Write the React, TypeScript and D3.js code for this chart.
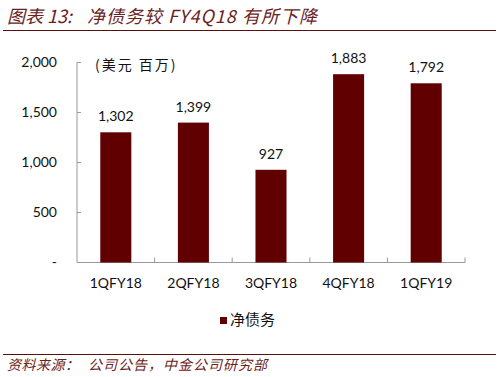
import React from "react";
import * as d3 from "d3";

const categories = ["1QFY18", "2QFY18", "3QFY18", "4QFY18", "1QFY19"];
const netDebt = [1302, 1399, 927, 1883, 1792];
const yTicks = [0, 500, 1000, 1500, 2000];
const seriesName = "净债务";
const unitLabel = "(美元 百万)";
const titleParts = ["图表 13:", "净债务较 FY4Q18 有所下降"];
const sourceParts = ["资料来源：", "公司公告，中金公司研究部"];

const W = 499;
const H = 377;
const left = 77;
const right = 465;
const top = 62.5;
const bottom = 262.5;
const barColor = "#600000";
const lineColor = "#5a0f0f";
const latin = "Lato, 'Open Sans', sans-serif";
const cjk = "'Noto Sans CJK SC', sans-serif";

export default function App() {
  const x = d3.scaleBand<string>().domain(categories).range([left, right]).paddingInner(0).paddingOuter(0);
  const y = d3.scaleLinear().domain([0, 2000]).range([bottom, top]);
  const bw = x.bandwidth() * 0.4;
  const fmt = d3.format(",");
  return (
    <svg width={W} height={H} style={{ position: "absolute", left: 0, top: 0, background: "#fff" }}>
      <text x={7} y={23} fontFamily={cjk} fontStyle="italic" fontSize={18} fill="#6a2222">
        {titleParts[0]}
      </text>
      <text x={87} y={23} fontFamily={cjk} fontStyle="italic" fontSize={18} letterSpacing={1} fill="#6a2222">
        {titleParts[1]}
      </text>
      <line x1={3} x2={496} y1={30.5} y2={30.5} stroke={lineColor} strokeWidth={1.2} />

      {/* y axis */}
      <line x1={left} x2={left} y1={top} y2={bottom} stroke="#999" strokeWidth={1} />
      {yTicks.map((t) => (
        <g key={t}>
          <line x1={left} x2={left + 4} y1={y(t)} y2={y(t)} stroke="#999" />
          <text x={57} y={y(t)} dy="0.35em" textAnchor="end" fontFamily={latin} fontSize={14} fill="#111">
            {t === 0 ? "-" : fmt(t)}
          </text>
        </g>
      ))}
      {/* x axis */}
      <line x1={left} x2={right} y1={bottom} y2={bottom} stroke="#999" strokeWidth={1} />
      {categories.map((c) => (
        <line key={"t" + c} x1={(x(c) as number) + x.bandwidth()} x2={(x(c) as number) + x.bandwidth()} y1={bottom} y2={bottom - 5} stroke="#999" />
      ))}

      {categories.map((c, i) => {
        const cx = (x(c) as number) + x.bandwidth() / 2;
        return (
          <g key={c}>
            <rect x={cx - bw / 2} y={y(netDebt[i])} width={bw} height={bottom - y(netDebt[i])} fill={barColor} />
            <text x={cx} y={y(netDebt[i]) - 11} textAnchor="middle" fontFamily={latin} fontSize={14} fill="#111">
              {fmt(netDebt[i])}
            </text>
            <text x={cx} y={288} textAnchor="middle" fontFamily={latin} fontSize={14} fill="#111">
              {c}
            </text>
          </g>
        );
      })}

      <text x={95} y={70} fontFamily={cjk} fontSize={14} letterSpacing={2} fill="#111">
        {unitLabel}
      </text>

      {/* legend */}
      <rect x={220} y={317} width={7} height={7} fill={barColor} />
      <text x={230} y={325} fontFamily={cjk} fontSize={15} fill="#111">
        {seriesName}
      </text>

      <line x1={3} x2={496} y1={354.5} y2={354.5} stroke={lineColor} strokeWidth={1.2} />
      <text x={7} y={370} fontFamily={cjk} fontStyle="italic" fontSize={14} letterSpacing={0.5} fill="#6a2222">
        {sourceParts[0]}
      </text>
      <text x={88} y={370} fontFamily={cjk} fontStyle="italic" fontSize={14} letterSpacing={1} fill="#6a2222">
        {sourceParts[1]}
      </text>
    </svg>
  );
}
